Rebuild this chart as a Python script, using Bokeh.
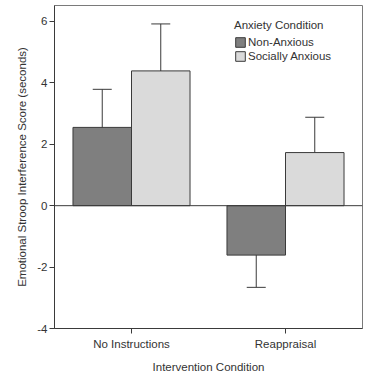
from bokeh.plotting import figure
from bokeh.models import ColumnDataSource, FactorRange, Whisker, Span, Legend, LegendItem, TeeHead
from bokeh.transform import dodge
from bokeh.embed import file_html
from bokeh.resources import INLINE

categories = ["No Instructions", "Reappraisal"]
non_anxious = [2.55, -1.61]
non_anxious_lo = [1.33, -2.66]
non_anxious_hi = [3.79, -0.55]
socially_anxious = [4.39, 1.73]
socially_anxious_lo = [2.86, 0.58]
socially_anxious_hi = [5.92, 2.88]
y_ticks = [-4, -2, 0, 2, 4, 6]
y_tick_labels = ["-4", "-2", "0", "2", "4", "6"]

FONT = "Liberation Sans"

src = ColumnDataSource(dict(
    cat=categories,
    na=non_anxious, na_lo=non_anxious_lo, na_hi=non_anxious_hi,
    sa=socially_anxious, sa_lo=socially_anxious_lo, sa_hi=socially_anxious_hi,
))

p = figure(x_range=FactorRange(*categories, range_padding=0), y_range=(-4, 6.52),
           width=381, height=375, output_backend="svg", toolbar_location=None,
           min_border_left=54, min_border_right=19, min_border_top=5, min_border_bottom=44)

OFF = 0.19
W = 0.38
r_na = p.vbar(x=dodge("cat", -OFF, range=p.x_range), top="na", bottom=0, width=W, source=src,
              fill_color="#7f7f7f", line_color="#3a3a3a", line_width=1)
r_sa = p.vbar(x=dodge("cat", OFF, range=p.x_range), top="sa", bottom=0, width=W, source=src,
              fill_color="#dadada", line_color="#3a3a3a", line_width=1)

p.add_layout(Span(location=0, dimension="width", line_color="#3a3a3a", line_width=1))

for off, lo, hi in [(-OFF, "na_lo", "na_hi"), (OFF, "sa_lo", "sa_hi")]:
    w = Whisker(base=dodge("cat", off, range=p.x_range), lower=lo, upper=hi, source=src,
                line_color="#3a3a3a", line_width=1,
                upper_head=TeeHead(size=19, line_color="#3a3a3a", line_width=1),
                lower_head=TeeHead(size=19, line_color="#3a3a3a", line_width=1))
    p.add_layout(w)

legend = Legend(items=[LegendItem(label="Non-Anxious", renderers=[r_na]),
                       LegendItem(label="Socially Anxious", renderers=[r_sa])],
                location=(180, 266), title="Anxiety Condition")
legend.title_text_font = FONT
legend.title_text_font_style = "normal"
legend.title_text_font_size = "11.5px"
legend.title_text_color = "#333333"
legend.label_text_font = FONT
legend.label_text_font_size = "11.5px"
legend.label_text_color = "#333333"
legend.glyph_width = 12
legend.glyph_height = 12
legend.label_standoff = 2
legend.spacing = 2
legend.padding = 4
legend.margin = 0
legend.border_line_color = None
legend.background_fill_alpha = 0
p.add_layout(legend)

p.grid.visible = False
p.outline_line_color = "#7a7a7a"
p.outline_line_width = 1

p.yaxis.ticker = y_ticks
p.yaxis.major_label_overrides = dict(zip(y_ticks, y_tick_labels))
p.yaxis.axis_label = "Emotional Stroop Interference Score (seconds)"
p.xaxis.axis_label = "Intervention Condition"
for ax in (p.xaxis, p.yaxis):
    ax.axis_label_text_font = FONT
    ax.axis_label_text_font_style = "normal"
    ax.axis_label_text_font_size = "11.5px"
    ax.axis_label_text_color = "#333333"
    ax.major_label_text_font = FONT
    ax.major_label_text_font_size = "11.5px"
    ax.major_label_text_color = "#333333"
    ax.axis_line_color = "#3a3a3a"
    ax.major_tick_line_color = "#3a3a3a"
    ax.major_tick_in = 0
    ax.major_tick_out = 5
    ax.minor_tick_line_color = None
p.xaxis.axis_label_standoff = 8
p.yaxis.axis_label_standoff = 6
p.xaxis.major_label_standoff = 4
p.yaxis.major_label_standoff = 2

open("out.html", "w").write(file_html(p, INLINE))
